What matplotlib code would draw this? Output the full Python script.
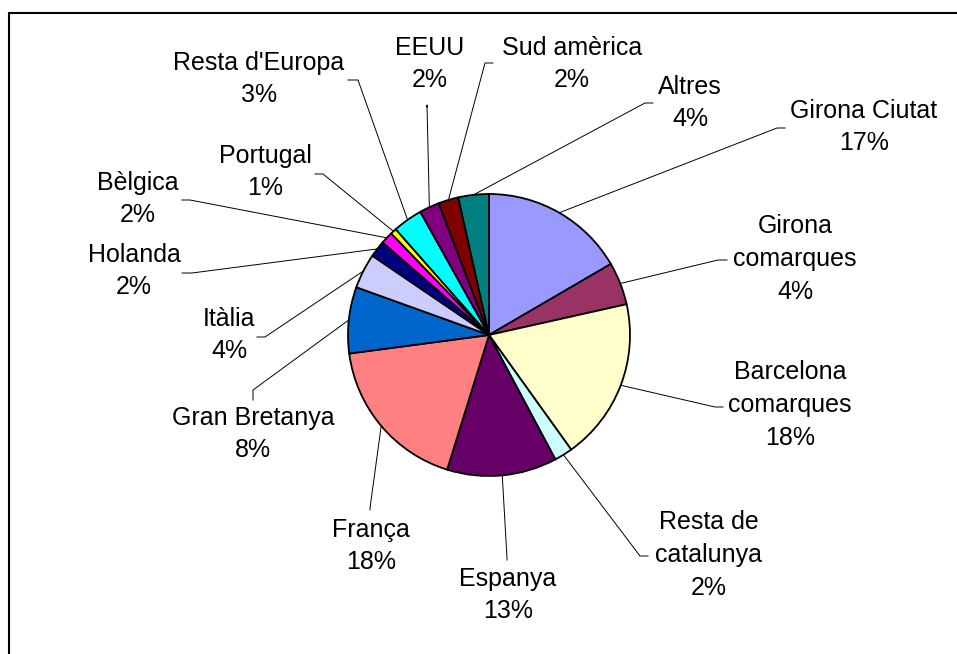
import numpy as np
import matplotlib
matplotlib.use("Agg")
import matplotlib.pyplot as plt

# slices, clockwise from 12 o'clock
categories = ["Girona Ciutat", "Girona\ncomarques", "Barcelona\ncomarques",
              "Resta de\ncatalunya", "Espanya", "França", "Gran Bretanya",
              "Itàlia", "Holanda", "Bèlgica", "Portugal", "Resta d'Europa",
              "EEUU", "Sud amèrica", "Altres"]
shares = [16.6, 4.9, 18.6, 2.1, 12.6, 18.1, 7.6, 4.0, 1.9, 1.4, 0.7, 3.4, 2.3, 2.3, 3.5]
pct_labels = ["17%", "4%", "18%", "2%", "13%", "18%", "8%", "4%", "2%", "2%",
              "1%", "3%", "2%", "2%", "4%"]
colors = ["#9999FF", "#993366", "#FFFFCC", "#CCFFFF", "#660066", "#FF8080",
          "#0066CC", "#CCCCFF", "#000080", "#FF00FF", "#FFFF00", "#00FFFF",
          "#800080", "#800000", "#008080"]

# layout (pixels, origin top-left): label centre, leader start, leader elbow
label_pos = [(864, 127), (795, 259), (790, 405), (709, 555), (508, 595),
             (371, 546), (253, 434), (229, 335), (134, 271), (138, 199),
             (265, 172), (259, 79), (430, 64), (572, 64), (690, 103)]
leader_start = [(785, 128), (727, 260), (723, 407), (648, 556), (507, 560),
                (370, 510), (253, 400), (257, 337), (182, 273), (182, 200),
                (315, 174), (348, 80), (427, 107), (493, 63), (653, 103)]
leader_elbow = [(777, 128), (718, 260), (715, 407), (640, 556), (507, 558),
                (370, 508), (253, 390), (265, 337), (192, 273), (190, 200),
                (323, 174), (358, 80), (427, 105), (485, 63), (645, 103)]

W, H = 957, 654
cx, cy, r = 489, H - 335, 141

fig = plt.figure(figsize=(W / 100, H / 100), dpi=100)
ax = fig.add_axes([0, 0, 1, 1])

wedges, _ = ax.pie(shares, colors=colors, startangle=90, counterclock=False,
                   center=(cx, cy), radius=r,
                   wedgeprops=dict(edgecolor="black", linewidth=1.3))
ax.set_xlim(0, W)
ax.set_ylim(0, H)
ax.set_aspect("equal")
ax.axis("off")

for i, w in enumerate(wedges):
    mid = np.deg2rad((w.theta1 + w.theta2) / 2)
    ex, ey = cx + r * np.cos(mid), cy + r * np.sin(mid)
    sx, sy = leader_start[i]
    bx, by = leader_elbow[i]
    ax.plot([sx, bx, ex], [H - sy, H - by, ey], color="black", lw=0.7,
            zorder=0)
    tx, ty = label_pos[i]
    ax.text(tx, H - ty, categories[i] + "\n" + pct_labels[i], ha="center",
            va="center", fontsize=18, family="Liberation Sans",
            linespacing=1.45)

# chart border (only left and top visible)
ax.plot([9, 9, W + 5], [-5, H - 12.5, H - 12.5], color="black", lw=1.5,
        clip_on=False, solid_joinstyle="miter")

fig.savefig("out.png", dpi=100)
